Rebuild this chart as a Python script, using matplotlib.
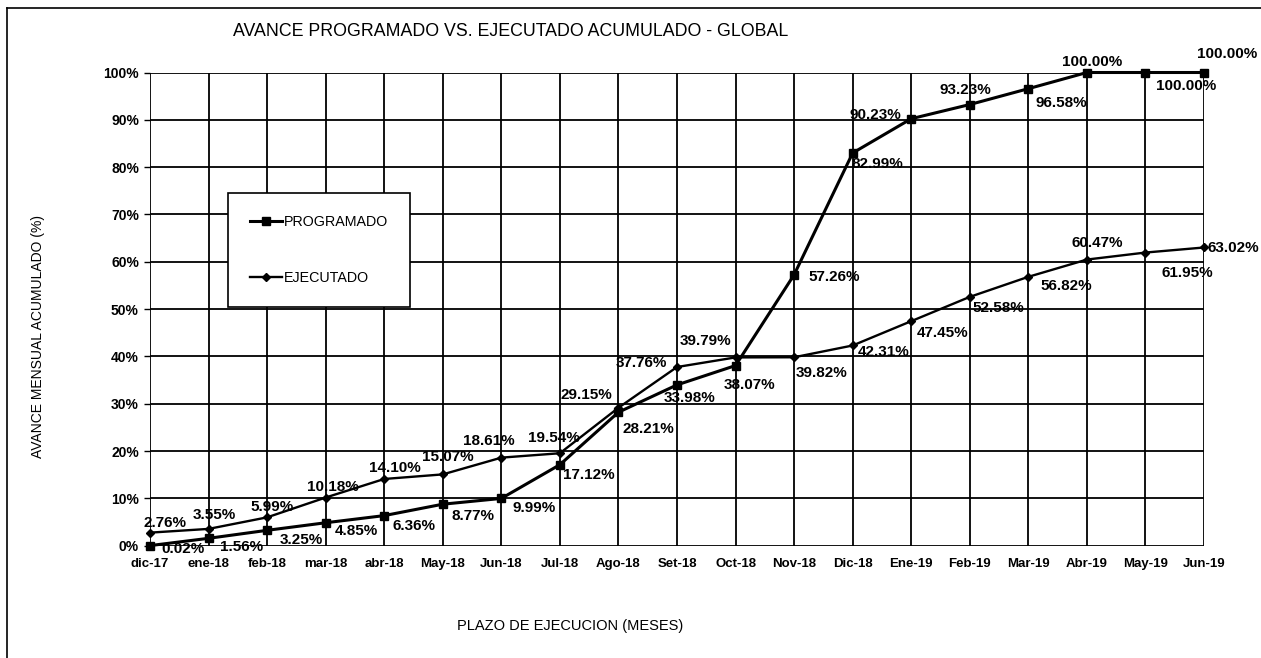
import matplotlib
matplotlib.use("Agg")
import matplotlib.pyplot as plt
from matplotlib.lines import Line2D
from matplotlib.ticker import PercentFormatter

# ---- data ----
months = ["dic-17", "ene-18", "feb-18", "mar-18", "abr-18", "May-18", "Jun-18",
          "Jul-18", "Ago-18", "Set-18", "Oct-18", "Nov-18", "Dic-18", "Ene-19",
          "Feb-19", "Mar-19", "Abr-19", "May-19", "Jun-19"]
programado = [0.02, 1.56, 3.25, 4.85, 6.36, 8.77, 9.99, 17.12, 28.21, 33.98,
              38.07, 57.26, 82.99, 90.23, 93.23, 96.58, 100.00, 100.00, 100.00]
ejecutado = [2.76, 3.55, 5.99, 10.18, 14.10, 15.07, 18.61, 19.54, 29.15, 37.76,
             39.79, 39.82, 42.31, 47.45, 52.58, 56.82, 60.47, 61.95, 63.02]
y_ticks = [0, 10, 20, 30, 40, 50, 60, 70, 80, 90, 100]

# label offsets in pixels (dx right, dy down) -- layout only
prog_off = [(33, 3), (33, 9), (34, 10), (31, 8), (30, 10), (30, 12), (33, 10),
            (29, 10), (30, 17), (13, 13), (14, 19), (40, 2), (25, 11), (-36, -4),
            (-4, -15), (33, 14), (5, -11), (41, 14), (23, -19)]
ejec_off = [(15, -10), (6, -14), (5, -10), (7, -11), (11, -11), (5, -17), (-13, -17),
            (-6, -15), (-32, -13), (-36, -4), (-30, -16), (27, 16), (31, 7), (31, 12),
            (29, 11), (38, 9), (10, -17), (42, 20), (29, 1)]

W, H = 1261, 658
fig = plt.figure(figsize=(W / 100, H / 100), dpi=100)
fig.patch.set_facecolor("white")
FONT = "Liberation Sans"

ax = fig.add_axes([150 / W, 1 - 545.7 / H, (1204 - 150) / W, (545.7 - 72.5) / H])
x = list(range(len(months)))

lp, = ax.plot(x, programado, color="black", lw=2.2, marker="s", markersize=6,
              label="PROGRAMADO", zorder=4, clip_on=False)
le, = ax.plot(x, ejecutado, color="black", lw=1.7, marker="D", markersize=4.5,
              label="EJECUTADO", zorder=4, clip_on=False)

ax.set_xlim(0, len(months) - 1)
ax.set_ylim(0, 100)
ax.set_xticks(x)
ax.set_xticklabels(months, fontfamily=FONT, fontweight="bold", fontsize=9.5)
ax.set_yticks(y_ticks)
ax.yaxis.set_major_formatter(PercentFormatter(100, decimals=0))
for t in ax.get_yticklabels():
    t.set_fontfamily(FONT)
    t.set_fontweight("bold")
    t.set_fontsize(10)
ax.tick_params(axis="x", length=0, pad=9)
ax.tick_params(axis="y", length=4, width=1, pad=4, direction="out")
ax.grid(True, color="black", lw=1.3, zorder=1)
for s in ax.spines.values():
    s.set_visible(False)

for xi, v, (dx, dy) in zip(x, programado, prog_off):
    ax.annotate(f"{v:.2f}%", (xi, v), xytext=(dx, -dy), textcoords="offset pixels",
                ha="center", va="center", fontfamily=FONT, fontweight="bold",
                fontsize=11, zorder=5, annotation_clip=False)
for xi, v, (dx, dy) in zip(x, ejecutado, ejec_off):
    ax.annotate(f"{v:.2f}%", (xi, v), xytext=(dx, -dy), textcoords="offset pixels",
                ha="center", va="center", fontfamily=FONT, fontweight="bold",
                fontsize=11, zorder=5, annotation_clip=False)

leg = ax.legend(handles=[lp, le], loc="upper left",
                bbox_to_anchor=(228 / W, 1 - 193 / H), bbox_transform=fig.transFigure,
                borderaxespad=0, frameon=True, fancybox=False, framealpha=1,
                edgecolor="black", prop={"family": FONT, "size": 10.3},
                labelspacing=2.9, borderpad=1.55, handlelength=2.2, handletextpad=0.15)
leg.get_frame().set_linewidth(1.2)
leg.set_zorder(6)

fig.text(511 / W, 1 - 32 / H, "AVANCE PROGRAMADO VS. EJECUTADO ACUMULADO - GLOBAL",
         ha="center", va="center", fontfamily=FONT, fontsize=12.8)
fig.text(38 / W, 1 - 337 / H, "AVANCE MENSUAL ACUMULADO (%)", rotation=90,
         ha="center", va="center", fontfamily=FONT, fontsize=10)
fig.text(570 / W, 1 - 626 / H, "PLAZO DE EJECUCION (MESES)",
         ha="center", va="center", fontfamily=FONT, fontsize=10.5)

# outer chart border (left and top visible)
fig.add_artist(Line2D([7 / W, 7 / W], [0, 1 - 8 / H], color="black", lw=1.2,
                      transform=fig.transFigure))
fig.add_artist(Line2D([7 / W, 1], [1 - 8 / H, 1 - 8 / H], color="black", lw=1.2,
                      transform=fig.transFigure))

fig.savefig("out.png", dpi=100, facecolor="white")
